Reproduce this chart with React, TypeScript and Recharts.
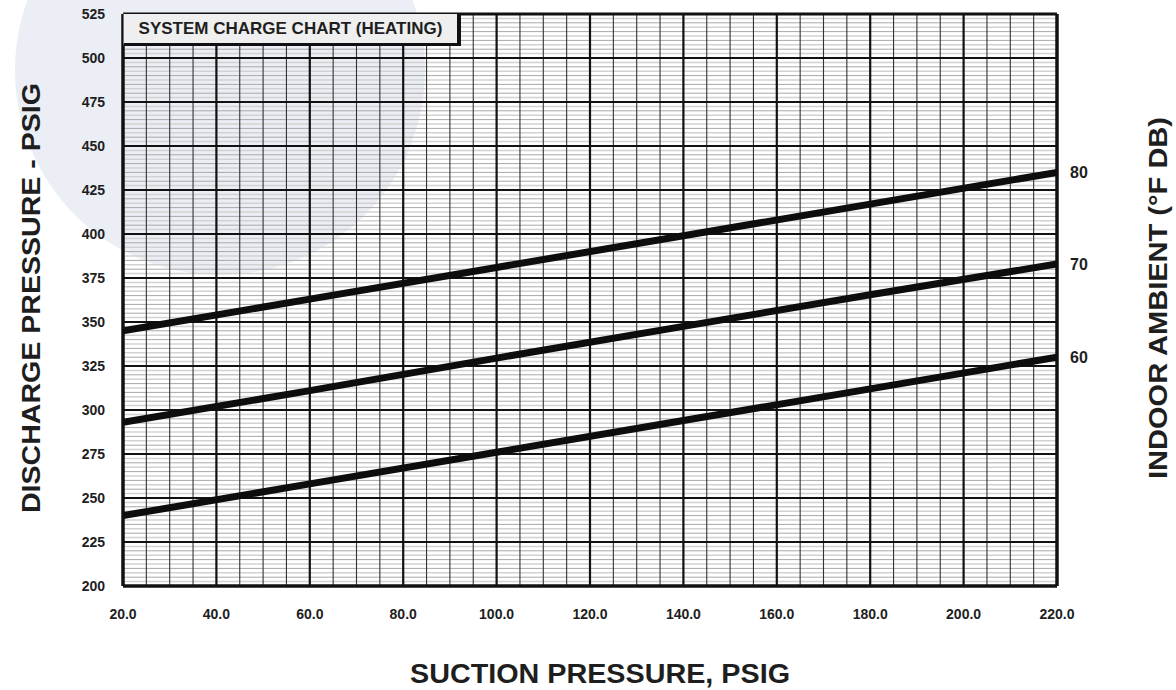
import { LineChart, Line, XAxis, YAxis, ReferenceLine } from 'recharts';

// suction pressure (psig) where each curve was read
const suction = [20, 60, 100, 140, 180, 220];
// discharge pressure (psig) for each indoor ambient curve
const ambient80 = [345, 363, 381, 399, 417, 435];
const ambient70 = [293, 311, 329.5, 347.5, 365.5, 383];
const ambient60 = [240, 258, 276, 294, 312, 330];

const ambientLabels = ['80', '70', '60'];
const xTicks = [20, 40, 60, 80, 100, 120, 140, 160, 180, 200, 220];
const yTicks = [200, 225, 250, 275, 300, 325, 350, 375, 400, 425, 450, 475, 500, 525];

const FONT = '"Liberation Sans", Arial, Helvetica, sans-serif';
const INK = '#1e1e1e';

const toPoints = (ys: number[]) => suction.map((x, i) => ({ x, y: ys[i] }));
const series = [
  { name: ambientLabels[0], data: toPoints(ambient80) },
  { name: ambientLabels[1], data: toPoints(ambient70) },
  { name: ambientLabels[2], data: toPoints(ambient60) },
];

// grid steps: minor every 5 on x, every 2.5 on y
const xMinor: number[] = [];
for (let v = 25; v < 220; v += 5) if (v % 20 !== 0) xMinor.push(v);
const yMinor: number[] = [];
for (let v = 202.5; v < 525; v += 2.5) if (v % 25 !== 0) yMinor.push(v);

const endLabel = (name: string, count: number) => (props: any) => {
  const { x, y, index } = props;
  if (index !== count - 1) return null;
  return (
    <text
      key={name}
      x={x + 13}
      y={y}
      dy="0.35em"
      fontFamily={FONT}
      fontWeight="bold"
      fontSize={16}
      fill={INK}
    >
      {name}
    </text>
  );
};

export default function App() {
  return (
    <div style={{ position: 'absolute', left: 0, top: 0, width: 1176, height: 690, background: '#fff', overflow: 'hidden' }}>
      {/* faint logo shape behind the chart */}
      <svg width={1176} height={690} style={{ position: 'absolute', left: 0, top: 0 }}>
        <circle cx={220} cy={70} r={205} fill="#eceef5" />
      </svg>

      <div style={{ position: 'absolute', left: 0, top: 0 }}>
        <LineChart width={1176} height={690} margin={{ top: 14, right: 119, bottom: 74, left: 0 }}>
          <XAxis
            dataKey="x"
            type="number"
            domain={[20, 220]}
            ticks={xTicks}
            allowDataOverflow
            axisLine={false}
            tickLine={false}
            tickSize={0}
            tickMargin={23}
            height={30}
            tickFormatter={(v: number) => v.toFixed(1)}
            tick={{ fontFamily: FONT, fontWeight: 'bold', fontSize: 14, fill: INK }}
          />
          <YAxis
            type="number"
            domain={[200, 525]}
            ticks={yTicks}
            allowDataOverflow
            axisLine={false}
            tickLine={false}
            tickSize={0}
            tickMargin={18}
            width={123}
            tick={{ fontFamily: FONT, fontWeight: 'bold', fontSize: 14, fill: INK }}
          />

          {yMinor.map((v) => (
            <ReferenceLine
              key={`hm${v}`}
              y={v}
              stroke={v % 5 === 0 ? '#a8a8a8' : '#d2d2d2'}
              strokeWidth={v % 5 === 0 ? 1 : 1.5}
            />
          ))}
          {xMinor.map((v) => (
            <ReferenceLine key={`vm${v}`} x={v} stroke="#333" strokeWidth={1.1} />
          ))}
          {yTicks.slice(1, -1).map((v) => (
            <ReferenceLine key={`hM${v}`} y={v} stroke="#111" strokeWidth={2} />
          ))}
          {xTicks.slice(1, -1).map((v) => (
            <ReferenceLine key={`vM${v}`} x={v} stroke="#111" strokeWidth={2.2} />
          ))}
          <ReferenceLine x={20} stroke="#111" strokeWidth={3.5} />
          <ReferenceLine x={220} stroke="#111" strokeWidth={3.5} />
          <ReferenceLine y={200} stroke="#111" strokeWidth={3.5} />
          <ReferenceLine y={525} stroke="#111" strokeWidth={3} />

          {series.map((s) => (
            <Line
              key={s.name}
              data={s.data}
              dataKey="y"
              type="linear"
              stroke="#0d0d0d"
              strokeWidth={7}
              dot={false}
              activeDot={false}
              isAnimationActive={false}
              label={endLabel(s.name, s.data.length)}
            />
          ))}
        </LineChart>
      </div>

      {/* chart title box */}
      <div
        style={{
          position: 'absolute',
          left: 123,
          top: 13,
          width: 338,
          height: 33,
          boxSizing: 'border-box',
          background: '#efefef',
          borderLeft: '1px solid #777',
          borderTop: '1px solid #111',
          borderRight: '4px solid #111',
          borderBottom: '3px solid #111',
          fontFamily: FONT,
          fontWeight: 'bold',
          fontSize: 17,
          color: INK,
          display: 'flex',
          alignItems: 'center',
          justifyContent: 'center',
          whiteSpace: 'nowrap',
        }}
      >
        SYSTEM CHARGE CHART (HEATING)
      </div>

      {/* axis titles */}
      <svg width={1176} height={690} style={{ position: 'absolute', left: 0, top: 0, pointerEvents: 'none' }}>
        <text
          x={600}
          y={674}
          textAnchor="middle"
          dominantBaseline="central"
          fontFamily={FONT}
          fontWeight="bold"
          fontSize={27}
          fill={INK}
          textLength={380}
          lengthAdjust="spacingAndGlyphs"
        >
          SUCTION PRESSURE, PSIG
        </text>
        <text
          transform="translate(31,298) rotate(-90)"
          textAnchor="middle"
          dominantBaseline="central"
          fontFamily={FONT}
          fontWeight="bold"
          fontSize={25}
          fill={INK}
          textLength={430}
          lengthAdjust="spacingAndGlyphs"
        >
          DISCHARGE PRESSURE - PSIG
        </text>
        <text
          transform="translate(1158,298) rotate(-90)"
          textAnchor="middle"
          dominantBaseline="central"
          fontFamily={FONT}
          fontWeight="bold"
          fontSize={25}
          fill={INK}
          textLength={362}
          lengthAdjust="spacingAndGlyphs"
        >
          INDOOR AMBIENT (°F DB)
        </text>
      </svg>
    </div>
  );
}
